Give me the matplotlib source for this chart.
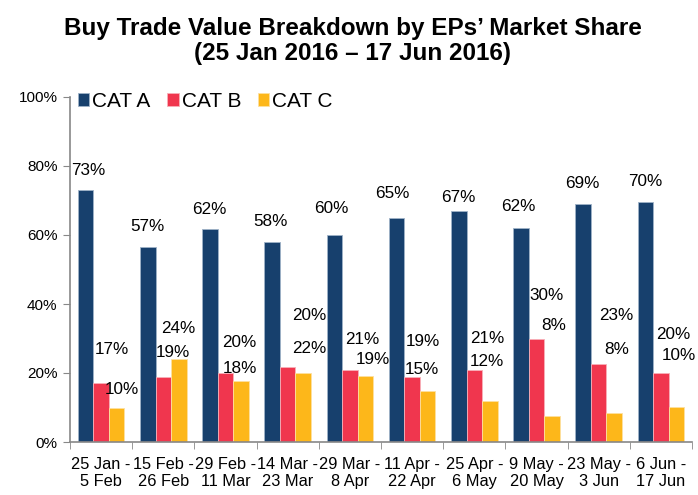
import matplotlib.pyplot as plt
import numpy as np

plt.rcParams['font.family'] = ['Liberation Sans', 'DejaVu Sans']

# periods (x categories)
periods = ['25 Jan -\n5 Feb', '15 Feb -\n26 Feb', '29 Feb -\n11 Mar', '14 Mar -\n23 Mar',
           '29 Mar -\n8 Apr', '11 Apr -\n22 Apr', '25 Apr -\n6 May', '9 May -\n20 May',
           '23 May -\n3 Jun', '6 Jun -\n17 Jun']

# market share (%) per category
cat_a = [73, 56.6, 61.8, 58, 60, 65, 67, 62, 68.9, 69.5]
cat_b = [17, 18.7, 20, 21.8, 20.9, 18.8, 20.9, 29.9, 22.6, 20.1]
cat_c = [10, 24.2, 17.7, 20, 19.1, 14.9, 11.9, 7.6, 8.4, 10.2]

# where the value labels sit in the original (x offset in px, y in %)
lab_a_pos = [(-13, 78.8), (-16, 62.6), (-16, 67.5), (-17, 63.8), (-19, 67.8),
             (-20, 71.9), (-16, 71.0), (-18, 68.4), (-16, 74.8), (-16, 75.4)]
lab_b_pos = [(11, 26.7), (10, 25.8), (14, 28.7), (22, 27.0), (12, 29.6),
             (11, 29.0), (13, 30.1), (10, 42.6), (18, 36.8), (12, 31.3)]
lab_c_pos = [(21, 15.1), (15, 33.0), (14, 21.4), (22, 36.8), (23, 23.8),
             (10, 20.9), (13, 23.2), (17, 33.9), (18, 26.7), (18, 25.2)]

col_a = '#17406D'
col_b = '#F0364E'
col_c = '#FDB71A'

fig = plt.figure(figsize=(6.98, 4.95), dpi=100)
ax = fig.add_axes([70 / 698, 53 / 495, 622 / 698, 345 / 495])

x = np.arange(len(periods))
w = 0.25
ax.bar(x - w, cat_a, w, color=col_a, edgecolor='#9fb3c8', linewidth=0.6, label='CAT A')
ax.bar(x, cat_b, w, color=col_b, edgecolor='#f7b0b8', linewidth=0.6, label='CAT B')
ax.bar(x + w, cat_c, w, color=col_c, edgecolor='#fde0a0', linewidth=0.6, label='CAT C')

px = 1 / 62.2  # one pixel in category units
for i in range(len(periods)):
    for vals, pos in ((cat_a, lab_a_pos), (cat_b, lab_b_pos), (cat_c, lab_c_pos)):
        ax.text(i + pos[i][0] * px, pos[i][1], f'{round(vals[i])}%',
                ha='center', va='center', fontsize=12.3, color='black')

ax.set_xlim(-0.5, len(periods) - 0.5)
ax.set_ylim(0, 100)
ax.set_yticks(range(0, 101, 20))
ax.set_yticklabels([f'{v}%' for v in range(0, 101, 20)], fontsize=11)
ax.set_xticks(x)
ax.set_xticklabels(periods, fontsize=11.8, linespacing=1.15)
ax.set_xticks(np.arange(-0.5, len(periods), 1), minor=True)
ax.tick_params(axis='x', which='major', length=0, pad=11)
ax.tick_params(axis='x', which='minor', length=5, color='#888888', direction='out')
ax.tick_params(axis='y', length=5, color='#888888', direction='out', pad=4)

for s in ('top', 'right'):
    ax.spines[s].set_visible(False)
ax.spines['left'].set_color('#888888')
ax.spines['bottom'].set_color('#888888')
ax.spines['left'].set_linewidth(1.2)
ax.spines['bottom'].set_linewidth(1.2)

ax.legend(loc='upper left', bbox_to_anchor=(-0.018, 1.07), ncol=3, frameon=False,
          fontsize=15, handlelength=0.55, handleheight=0.55, handletextpad=0.15,
          columnspacing=0.8)

fig.text(0.505, 0.965, 'Buy Trade Value Breakdown by EPs\u2019 Market Share\n(25 Jan 2016 \u2013 17 Jun 2016)',
         ha='center', va='top', fontsize=17.5, fontweight='bold', linespacing=1.1)

fig.savefig('out.png', dpi=100)
